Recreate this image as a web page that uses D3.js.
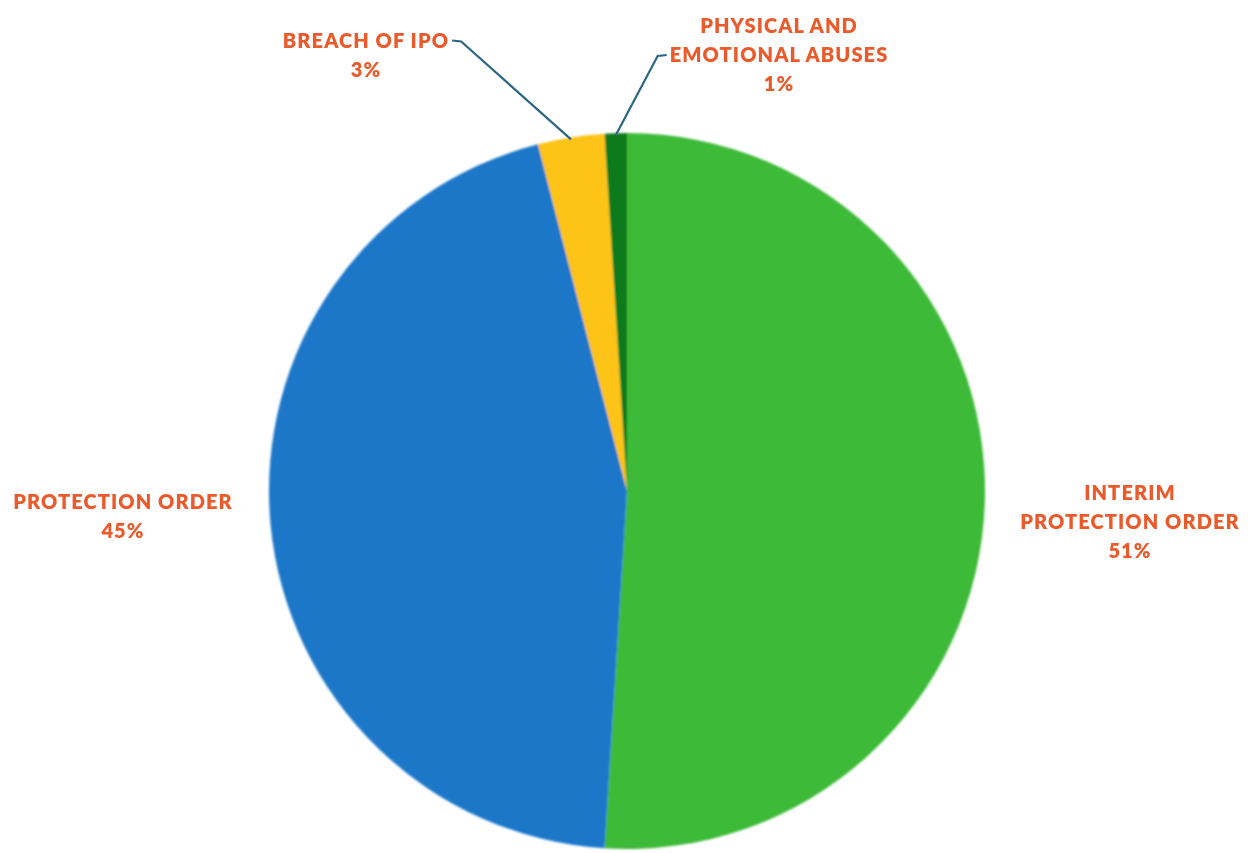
<!DOCTYPE html>
<html>
<head>
<meta charset="utf-8">
<script src="https://cdn.jsdelivr.net/npm/d3@7"></script>
<style>
  html, body { margin: 0; padding: 0; background: #ffffff; }
  svg { display: block; }
</style>
</head>
<body>
<svg id="chart" width="1253" height="853"></svg>
<script>
// Case outcomes by order type (share of all cases, %)
const categories = ["INTERIM PROTECTION ORDER", "PROTECTION ORDER", "BREACH OF IPO", "PHYSICAL AND EMOTIONAL ABUSES"];
const shares = [51, 45, 3, 1];
const sliceColors = ["#3dba38", "#1a77c9", "#fdc315", "#0d7a1d"];
// How each category name is broken over lines in its label
const labelLines = [["INTERIM", "PROTECTION ORDER"], ["PROTECTION ORDER"], ["BREACH OF IPO"], ["PHYSICAL AND", "EMOTIONAL ABUSES"]];

const W = 1253, H = 853;
const cx = 627, cy = 491, radius = 358;
const textColor = "#ea5a2a";
const leaderColor = "#2d6583";
const lineH = 29;

// Label block centres, relative to the pie centre, and which side the leader leaves from
const labelLayout = [
  { dx: 503, dy: 31, leader: null },
  { dx: -504, dy: 25, leader: null },
  { dx: -261, dy: -436, leader: "right" },
  { dx: 152, dy: -436, leader: "left", leaderLine: 1 }
];

const svg = d3.select("#chart");
const defs = svg.append("defs");
defs.append("filter").attr("id", "soft")
  .append("feGaussianBlur").attr("stdDeviation", 0.9);
defs.append("filter").attr("id", "softText")
  .append("feGaussianBlur").attr("stdDeviation", 0.55);

const data = categories.map((c, i) => ({ name: c, value: shares[i], color: sliceColors[i], lines: labelLines[i], layout: labelLayout[i] }));

const pie = d3.pie().value(d => d.value).sort(null).startAngle(0).endAngle(2 * Math.PI);
const arcs = pie(data);
const arc = d3.arc().innerRadius(0).outerRadius(radius);

const g = svg.append("g").attr("transform", `translate(${cx},${cy})`).attr("filter", "url(#soft)");
g.selectAll("path.slice").data(arcs).join("path")
  .attr("class", "slice")
  .attr("d", arc)
  .attr("fill", d => d.data.color);

// Labels
const labels = svg.append("g").attr("filter", "url(#softText)");
arcs.forEach(a => {
  const d = a.data, L = d.layout;
  const lines = d.lines.concat([d3.format(".0f")(d.value) + "%"]);
  const x = cx + L.dx;
  const y0 = cy + L.dy - (lines.length - 1) * lineH / 2;
  const t = labels.append("text")
    .attr("text-anchor", "middle")
    .attr("font-family", "Lato, 'Open Sans', sans-serif")
    .attr("font-weight", 800)
    .attr("font-size", 20)
    .attr("letter-spacing", "1.1px")
    .attr("fill", textColor);
  const spans = lines.map((s, k) => t.append("tspan")
    .attr("x", x).attr("y", y0 + k * lineH).attr("dy", "0.36em").text(s));

  if (L.leader) {
    const li = L.leaderLine || 0;
    const bb = spans[li].node().getBBox();
    const ly = y0 + li * lineH;
    const mid = (a.startAngle + a.endAngle) / 2;
    const ex = cx + radius * Math.sin(mid), ey = cy - radius * Math.cos(mid);
    let sx, kx;
    if (L.leader === "right") { sx = bb.x + bb.width + 3; kx = sx + 9; }
    else { sx = bb.x - 3; kx = sx - 9; }
    svg.append("polyline")
      .attr("points", [[sx, ly], [kx, ly + 1], [ex, ey + 2]].map(p => p.join(",")).join(" "))
      .attr("fill", "none")
      .attr("stroke", leaderColor)
      .attr("stroke-width", 2.2)
      .attr("filter", "url(#softText)");
  }
});
</script>
</body>
</html>
